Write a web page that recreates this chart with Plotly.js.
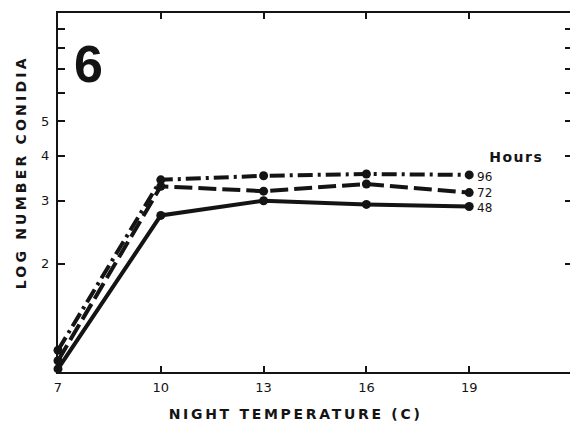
<!DOCTYPE html>
<html>
<head>
<meta charset="utf-8">
<script src="https://cdn.plot.ly/plotly-3.0.1.min.js"></script>
<style>
html, body { margin: 0; padding: 0; overflow: hidden; background: #fff; width: 570px; height: 422px; }
#chart { width: 572px; height: 422px; }
g.annotation[data-index="0"] text { letter-spacing: 2.7px; }
g.annotation[data-index="1"] text { letter-spacing: 3.2px; }
g.annotation[data-index="2"] text { letter-spacing: 1.5px; }
</style>
</head>
<body>
<div id="chart"></div>
<script>
const temps = [7, 10, 13, 16, 19];
const hours48 = [1.02, 2.73, 3.00, 2.93, 2.89];
const hours72 = [1.075, 3.29, 3.19, 3.34, 3.16];
const hours96 = [1.15, 3.43, 3.52, 3.56, 3.54];
const seriesNames = ["48", "72", "96"];
const xTicks = [7, 10, 13, 16, 19];
const yTickVals = [2, 3, 4, 5, 6, 7, 8, 9];
const yTickText = ["2", "3", "4", "5", "", "", "", ""];

const ink = "#141414";
const series = [hours48, hours72, hours96];
const dashes = ["solid", "18px,6px", "15px,5px,3px,5px"];

const traces = series.map((vals, i) => ({
  x: temps, y: vals, type: "scatter", mode: "lines+markers",
  name: seriesNames[i],
  line: { color: ink, width: 4, dash: dashes[i] },
  marker: { color: ink, size: 9 },
  cliponaxis: false, showlegend: false
}));

const tickFont = { family: "DejaVu Sans", size: 13, color: ink };

const annotations = [
  { text: "NIGHT TEMPERATURE (C)", xref: "paper", yref: "paper", x: 0.463, y: -0.117, yanchor: "middle",
    xanchor: "center", showarrow: false,
    font: { family: "DejaVu Sans", size: 14, color: ink, weight: "bold" } },
  { text: "LOG NUMBER CONIDIA", xref: "paper", yref: "paper", x: 0, y: 0.5, xanchor: "center",
    yanchor: "middle", xshift: -38, yshift: 20, textangle: -90, showarrow: false,
    font: { family: "DejaVu Sans", size: 14, color: ink, weight: "bold" } },
  { text: "Hours", xref: "x", yref: "y", x: 19, y: Math.log10(4.0), xanchor: "left", yanchor: "middle",
    xshift: 22, yshift: -1, showarrow: false,
    font: { family: "DejaVu Sans", size: 14, color: ink, weight: "bold" } },
  { text: "6", xref: "paper", yref: "paper", x: 0.06, y: 0.99, xanchor: "center", yanchor: "top",
    xshift: 0, yshift: -16, showarrow: false,
    font: { family: "Liberation Sans", size: 52, color: ink, weight: "bold" } }
];
series.forEach((vals, i) => {
  annotations.push({
    text: seriesNames[i], xref: "x", yref: "y", x: temps[temps.length - 1],
    y: Math.log10(vals[vals.length - 1]), xanchor: "left", yanchor: "middle",
    xshift: 6, yshift: i === 0 ? -1 : (i === 2 ? -2 : 0), showarrow: false,
    font: { family: "DejaVu Sans", size: 12, color: ink }
  });
});

const layout = {
  width: 572, height: 422,
  margin: { l: 58, r: 0, t: 13, b: 50 },
  paper_bgcolor: "#ffffff", plot_bgcolor: "#ffffff",
  xaxis: {
    range: [7, 22], tickvals: xTicks, ticktext: xTicks.map(String),
    ticks: "inside", ticklen: 6, tickwidth: 2, tickcolor: ink,
    showline: true, linecolor: ink, linewidth: 2, mirror: "ticks",
    showgrid: false, zeroline: false, tickfont: tickFont, ticklabelstandoff: 2
  },
  yaxis: {
    type: "log", range: [0, 1], tickvals: yTickVals, ticktext: yTickText,
    ticks: "inside", ticklen: 7, tickwidth: 2, tickcolor: ink,
    showline: true, linecolor: ink, linewidth: 2, mirror: "ticks",
    showgrid: false, zeroline: false, tickfont: tickFont, ticklabelstandoff: 4
  },
  annotations: annotations
};

Plotly.newPlot("chart", traces, layout, { displayModeBar: false, staticPlot: true });
</script>
</body>
</html>
